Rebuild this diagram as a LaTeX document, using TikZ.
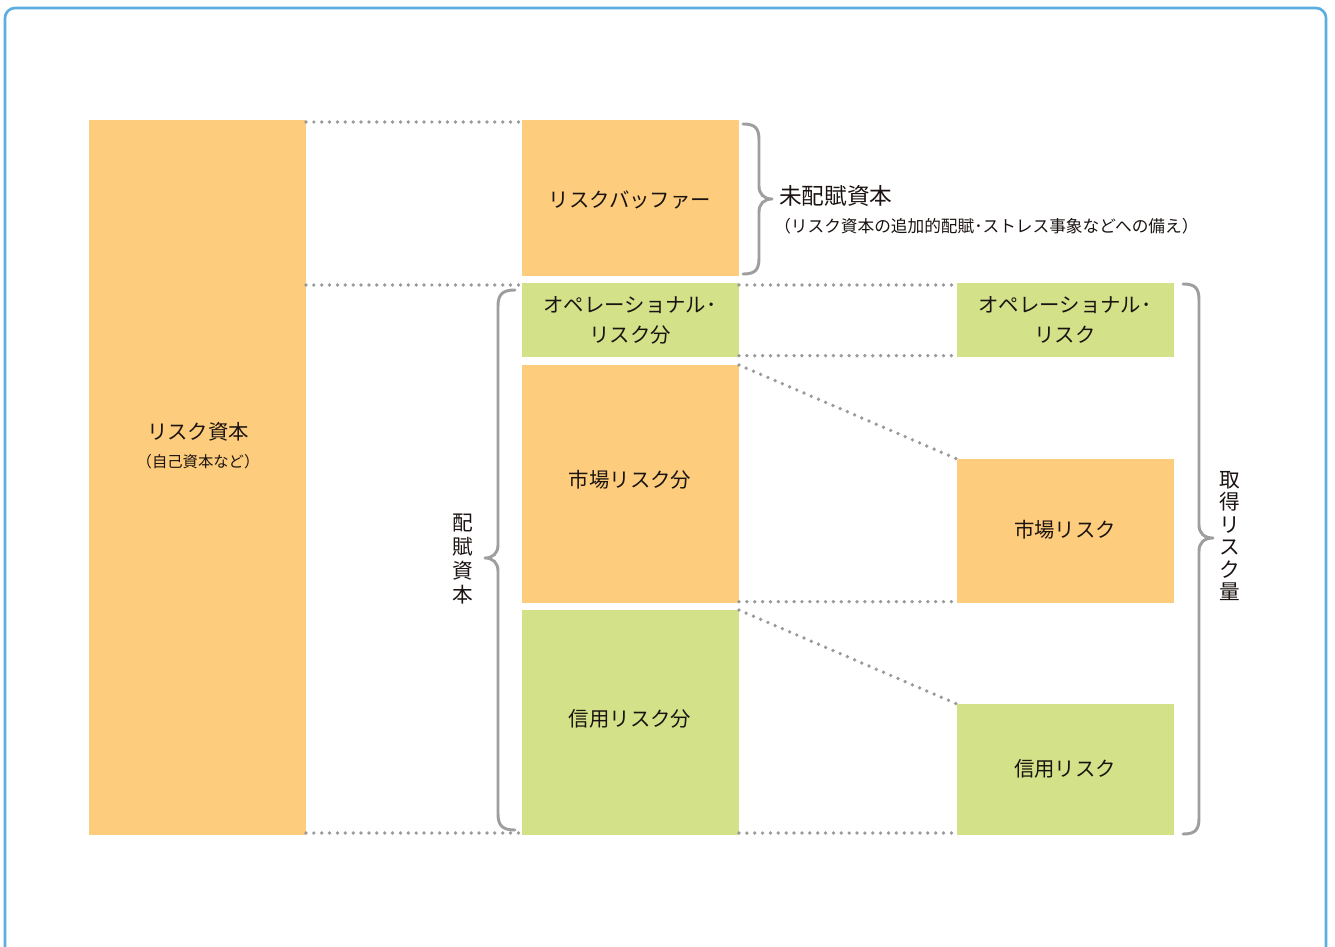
\documentclass[tikz,border=0pt]{standalone}
\usepackage{fontspec}
\setmainfont{Noto Sans CJK JP}
\usetikzlibrary{fit}
\definecolor{orng}{HTML}{FDCD7D}
\definecolor{grn}{HTML}{D3E288}
\definecolor{bgray}{HTML}{9E9EA0}
\definecolor{dgray}{HTML}{9A9A9C}
\definecolor{framec}{HTML}{5BAEE0}
\definecolor{txt}{HTML}{1A1311}
\begin{document}
\begin{tikzpicture}[x=0.75pt,y=-0.75pt,
  box/.style={inner sep=0pt, outer sep=0pt},
  ob/.style={box, fill=orng},
  gb/.style={box, fill=grn},
  lbl/.style={inner sep=0pt, text=txt, align=center},
  btxt/.style={lbl, font=\fontsize{15.3}{22.5}\selectfont},
  dots/.style={draw=dgray, line width=2.8pt, line cap=round, dash pattern=on 0pt off 5.9pt},
  brace/.style={draw=bgray, line width=2.2pt, line cap=round, line join=round}]
\useasboundingbox (0,0) rectangle (1335,946);
\clip (0,0) rectangle (1335,946);
\draw[framec, line width=2pt, rounded corners=7.5pt] (5,8) rectangle (1326,990);

% boxes
\node[ob, fit={(89,120) (306,835)}] (lbox) {};
\node[ob, fit={(522,120) (739,276)}] (buf) {};
\node[gb, fit={(522,283) (739,357)}] (ops) {};
\node[ob, fit={(522,365) (739,603)}] (mkt) {};
\node[gb, fit={(522,610) (739,835)}] (crd) {};
\node[gb, fit={(957,283) (1174,357)}] (rops) {};
\node[ob, fit={(957,459) (1174,603)}] (rmkt) {};
\node[gb, fit={(957,704) (1174,835)}] (rcrd) {};

% box texts
\node[btxt] (tbuf) at (630,200) {リスクバッファー};
\node[btxt] (tops) at (630,320) {オペレーショナル･\\リスク分};
\node[btxt] (tmkt) at (630,480) {市場リスク分};
\node[btxt] (tcrd) at (630,719) {信用リスク分};
\node[btxt] (trops) at (1065,320) {オペレーショナル･\\リスク};
\node[btxt] (trmkt) at (1065,530) {市場リスク};
\node[btxt] (trcrd) at (1065,769) {信用リスク};

% labels
\node[btxt] (rk) at (198,432) {リスク資本};
\node[lbl, font=\fontsize{11.5}{14}\selectfont] (rks) at (198,462) {（自己資本など）};
\node[lbl, anchor=west, font=\fontsize{17}{20}\selectfont] (mh) at (779,196) {未配賦資本};
\node[lbl, anchor=west, font=\fontsize{12.5}{14}\selectfont] (mhs) at (774,226) {（リスク資本の追加的配賦･ストレス事象などへの備え）};
\node[lbl, font=\fontsize{15.5}{18}\selectfont] (hf) at (463,559) {配\\賦\\資\\本};
\node[lbl, font=\fontsize{15.5}{16.8}\selectfont] (sr) at (1230,536) {取\\得\\リ\\ス\\ク\\量};

% dotted connectors
\draw[dots] ([yshift=-1.5pt]lbox.north east) -- ([yshift=-1.5pt]buf.north west);
\draw[dots] ([yshift=-1.5pt]lbox.east |- ops.north) -- ([yshift=-1.5pt]ops.north west);
\draw[dots] ([yshift=-1.5pt]ops.north east) -- ([yshift=-1.5pt]rops.north west);
\draw[dots] ([yshift=1pt]ops.south east) -- ([yshift=1pt]rops.south west);
\draw[dots] (mkt.north east) -- (rmkt.north west);
\draw[dots] ([yshift=1pt]mkt.south east) -- ([yshift=1pt]rmkt.south west);
\draw[dots] (crd.north east) -- (rcrd.north west);
\draw[dots] ([yshift=1.5pt]lbox.south east) -- ([yshift=1.5pt]crd.south west);
\draw[dots] ([yshift=1.5pt]crd.south east) -- ([yshift=1.5pt]rcrd.south west);

% braces
\draw[brace] (743,124) .. controls (755,124) and (759,128) .. (759,140) -- (759,186)
  .. controls (759,194) and (764,199) .. (772,199)
  .. controls (764,199) and (759,204) .. (759,212) -- (759,258)
  .. controls (759,270) and (755,274) .. (743,274);
\draw[brace] (515,290) .. controls (503,290) and (498,294) .. (498,306) -- (498,545)
  .. controls (498,553) and (493,558) .. (485,558)
  .. controls (493,558) and (498,563) .. (498,571) -- (498,814)
  .. controls (498,826) and (503,830) .. (515,830);
\draw[brace] (1183,284) .. controls (1195,284) and (1199,288) .. (1199,300) -- (1199,525)
  .. controls (1199,533) and (1204,538) .. (1213,538)
  .. controls (1204,538) and (1199,543) .. (1199,551) -- (1199,818)
  .. controls (1199,830) and (1195,834) .. (1183,834);
\end{tikzpicture}
\end{document}
